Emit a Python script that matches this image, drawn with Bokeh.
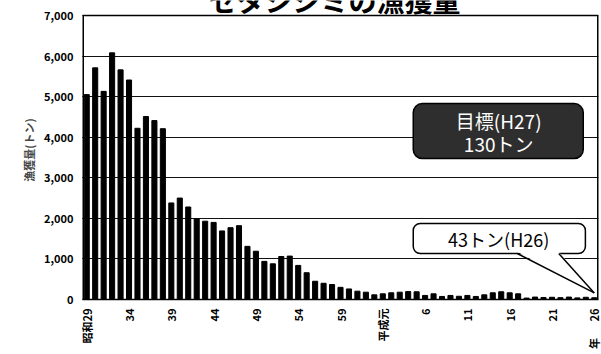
import math

from bokeh.plotting import figure
from bokeh.models import Range1d, FixedTicker, BoxAnnotation, Label, NumeralTickFormatter, Span
from bokeh.embed import file_html
from bokeh.resources import INLINE

# Annual catch (tonnes), 昭和29 (1954) through 平成26 (2014)
year_idx = list(range(61))
catch = [5050, 5710, 5130, 6080, 5660, 5410, 4220, 4510, 4410, 4210,
         2380, 2500, 2280, 1990, 1930, 1900, 1690, 1770, 1820, 1310,
         1190, 940, 880, 1060, 1070, 840, 660, 450, 400, 370,
         300, 260, 205, 180, 115, 140, 165, 180, 195, 190,
         100, 140, 75, 100, 80, 100, 75, 115, 165, 190,
         165, 140, 35, 60, 50, 55, 45, 60, 40, 55, 43]

tick_pos = [0, 5, 10, 15, 20, 25, 30, 35, 40, 45, 50, 55, 60]
tick_labels = ["昭和29", "34", "39", "44", "49", "54", "59", "平成元",
               "6", "11", "16", "21", "26"]
unit_label = "年"
y_ticks = [0, 1000, 2000, 3000, 4000, 5000, 6000, 7000]
y_max = 7000

title_text = "セタシジミの漁獲量"
target_text = ["目標(H27)", "130トン"]
latest_text = "43トン(H26)"

JP = "Noto Sans CJK JP"

# The frame runs to the top edge of the canvas so the title can sit above
# the 7,000 line; the visible box is drawn by hand up to y_max.
y_top = y_max * 299 / 284
p = figure(width=601, height=354, x_range=Range1d(-0.5, 60.5),
           y_range=Range1d(0, y_top), output_backend="svg",
           toolbar_location=None, min_border_left=82, min_border_right=3,
           min_border_top=0, min_border_bottom=55)

p.background_fill_color = "white"
p.border_fill_color = "white"
p.outline_line_color = None

p.xgrid.grid_line_color = None
p.ygrid.grid_line_color = "#111111"
p.ygrid.grid_line_width = 1.2

# y axis
yax = p.yaxis[0]
yax.ticker = FixedTicker(ticks=y_ticks)
yax.formatter = NumeralTickFormatter(format="0,0")
yax.axis_line_color = None
yax.major_tick_in = 3
yax.major_tick_out = 0
yax.major_tick_line_color = "black"
yax.minor_tick_line_color = None
yax.major_label_standoff = 9
yax.major_label_text_font = JP
yax.major_label_text_font_size = "11px"
yax.major_label_text_font_style = "bold"
yax.major_label_text_color = "black"
yax.axis_label = "漁獲量(トン)"
yax.axis_label_text_font = JP
yax.axis_label_text_font_size = "11px"
yax.axis_label_text_font_style = "bold"
yax.axis_label_standoff = 4

# x axis; labels read bottom-to-top, the unit sits well below the last year
overrides = {t: s for t, s in zip(tick_pos, tick_labels)}
overrides[tick_pos[-1]] = unit_label + "\u3000\u2002" + tick_labels[-1]
xax = p.xaxis[0]
xax.ticker = FixedTicker(ticks=tick_pos)
xax.major_label_overrides = overrides
xax.major_label_orientation = math.pi / 2
xax.axis_line_color = "black"
xax.axis_line_width = 1.5
xax.major_tick_in = 0
xax.major_tick_out = 0
xax.minor_tick_line_color = None
xax.major_label_standoff = 9
xax.major_label_text_font = JP
xax.major_label_text_font_size = "11px"
xax.major_label_text_font_style = "bold"
xax.major_label_text_color = "black"

p.vbar(x=year_idx, top=catch, width=0.6, fill_color="black", line_color="black")

# chart box: top edge at y_max, sides from 0 to y_max
p.add_layout(Span(location=y_max, dimension="width", line_color="black",
                  line_width=1.5))
p.segment(x0=[-0.5, 60.5], y0=[0, 0], x1=[-0.5, 60.5], y1=[y_max, y_max],
          line_color="black", line_width=3)

# title, cut by the top edge of the canvas
p.add_layout(Label(x=29.3, y=7394, text=title_text, text_font=JP,
                   text_font_size="28px", text_font_style="bold",
                   text_color="black", text_align="center",
                   text_baseline="middle"))

# target box
p.add_layout(BoxAnnotation(left=38.6, right=58.7, top=4830, bottom=3475,
                           fill_color="#2e2e2e", fill_alpha=1.0,
                           line_color="black", line_alpha=1.0, line_width=1.5,
                           border_radius=9))
p.add_layout(Label(x=48.7, y=4410, text=target_text[0], text_font=JP,
                   text_font_size="19px", text_color="white",
                   text_align="center", text_baseline="middle"))
p.add_layout(Label(x=48.7, y=3845, text=target_text[1], text_font=JP,
                   text_font_size="19px", text_color="white",
                   text_align="center", text_baseline="middle"))

# callout pointing at the latest year
box_l, box_r, box_t, box_b = 38.6, 58.95, 1873, 1134
p.add_layout(BoxAnnotation(left=box_l, right=box_r, top=box_t, bottom=box_b,
                           fill_color="white", fill_alpha=1.0,
                           line_color="black", line_alpha=1.0, line_width=1.5,
                           border_radius=7))
p.add_layout(Label(x=48.7, y=1490, text=latest_text, text_font=JP,
                   text_font_size="18px", text_color="black",
                   text_align="center", text_baseline="middle"))

tip_x = year_idx[-1]
tip_y = catch[-1] + 120
base_a, base_b = 50.9, 55.8
tail = p.patch([base_a, base_b, tip_x], [box_b + 40, box_b + 40, tip_y],
               fill_color="white", line_color=None)
tail.level = "overlay"
edges = p.multi_line([[base_a, tip_x], [base_b, tip_x]],
                     [[box_b, tip_y], [box_b, tip_y]],
                     line_color="black", line_width=1.5)
edges.level = "overlay"

open("out.html", "w").write(file_html(p, INLINE))
